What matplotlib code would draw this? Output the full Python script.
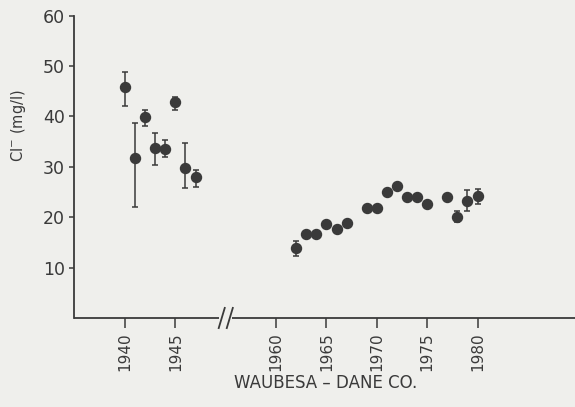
import numpy as np
import matplotlib
matplotlib.use('Agg')
import matplotlib.pyplot as plt

# chloride, Lake Waubesa (Dane Co.); early record 1940-47, later 1962-80
early_years = [1940, 1941, 1942, 1943, 1944, 1945, 1946, 1947]
early_cl = [45.8, 31.8, 39.8, 33.7, 33.5, 42.9, 29.8, 28.0]
early_lo = [42.0, 22.0, 38.1, 30.3, 32.0, 41.3, 25.7, 26.0]
early_hi = [48.9, 38.6, 41.2, 36.7, 35.3, 43.9, 34.7, 29.4]

late_years = [1962, 1963, 1964, 1965, 1966, 1967, 1969, 1970, 1971,
              1972, 1973, 1974, 1975, 1977, 1978, 1979, 1980]
late_cl = [13.8, 16.6, 16.6, 18.6, 17.7, 18.9, 21.9, 21.9, 25.0,
           26.2, 24.0, 24.0, 22.6, 24.0, 20.1, 23.2, 24.2]

# later years that carry a range
late_err_years = [1962, 1978, 1979, 1980]
late_err_lo = [12.3, 19.1, 21.2, 22.7]
late_err_hi = [15.2, 21.3, 25.4, 25.5]

tick_years = [1940, 1945, 1960, 1965, 1970, 1975, 1980]
GAP = 5  # years cut out of the axis between 1950 and 1960


def xpos(years):
    y = np.asarray(years, dtype=float)
    return np.where(y >= 1955, y - GAP, y)


paper = '#efefec'
ink = '#3a3a3a'

plt.rcParams['font.family'] = ['DejaVu Sans']
fig = plt.figure(figsize=(5.75, 4.07), dpi=100, facecolor=paper)
ax = fig.add_axes([0.1287, 0.2187, 0.8713, 0.743])
ax.set_facecolor(paper)

ey = np.array(early_cl)
ax.errorbar(xpos(early_years), ey,
            yerr=[ey - np.array(early_lo), np.array(early_hi) - ey],
            fmt='none', ecolor=ink, elinewidth=1.1, capsize=2.4, capthick=1.1)
ax.plot(xpos(early_years), ey, 'o', color=ink, ms=7.2, mec=ink)

ly = np.array([late_cl[late_years.index(y)] for y in late_err_years])
ax.errorbar(xpos(late_err_years), ly,
            yerr=[ly - np.array(late_err_lo), np.array(late_err_hi) - ly],
            fmt='none', ecolor=ink, elinewidth=1.1, capsize=2.4, capthick=1.1)
ax.plot(xpos(late_years), late_cl, 'o', color=ink, ms=7.2, mec=ink)

xmin, xmax = 1934.93, 1984.68
ax.set_xlim(xmin, xmax)
ax.set_ylim(0, 60)

for s in ['top', 'right', 'bottom']:
    ax.spines[s].set_visible(False)
ax.spines['left'].set_color(ink)
ax.spines['left'].set_linewidth(1.3)

# broken x axis with // marks
ax.plot([xmin, 1949.3], [0, 0], color=ink, lw=1.3, clip_on=False,
        solid_capstyle='butt')
ax.plot([1950.6, xmax], [0, 0], color=ink, lw=1.3, clip_on=False,
        solid_capstyle='butt')
for cx in [1949.6, 1950.4]:
    ax.plot([cx - 0.3, cx + 0.3], [-2.0, 2.0], color=ink, lw=1.3,
            clip_on=False)

ax.set_xticks(xpos(tick_years))
ax.set_xticklabels([str(y) for y in tick_years], rotation=90, fontsize=11,
                   color=ink)
ax.set_yticks([10, 20, 30, 40, 50, 60])
ax.set_yticklabels(['10', '20', '30', '40', '50', '60'], fontsize=12.5,
                   color=ink)
ax.tick_params(axis='x', direction='out', length=7.2, width=1.1, pad=3,
               color=ink)
ax.tick_params(axis='y', direction='out', length=3.6, width=1.1, pad=3,
               color=ink)

fig.text(18.5 / 575, 1 - 125.5 / 407, 'Cl$^{-}$ (mg/l)', rotation=90,
         ha='center', va='center', fontsize=10.5, color=ink)
fig.text(326 / 575, 1 - 383 / 407, 'WAUBESA \u2013 DANE CO.',
         ha='center', va='center', fontsize=12, color=ink)

fig.savefig('out.png', dpi=100, facecolor=paper)
